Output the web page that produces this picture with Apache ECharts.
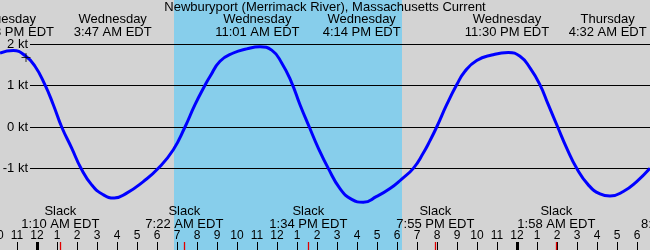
<!DOCTYPE html>
<html>
<head>
<meta charset="utf-8">
<script src="https://cdn.jsdelivr.net/npm/echarts@6/dist/echarts.min.js"></script>
<style>html,body{margin:0;padding:0;background:#d3d3d3}#c{width:650px;height:250px}</style>
</head>
<body>
<div id="c"></div>
<script>
// ---- data (hours relative to Wednesday 00:00 EDT) ----
const titleText = 'Newburyport (Merrimack River), Massachusetts Current';
const curveHours = [-1.85,-1.185,-0.6,-0.1,0.4,0.815,1.235,1.735,2.2,2.735,3.315,3.865,4.485,5.315,6.065,6.815,7.4,7.9,8.4,8.65,9.15,9.815,10.485,11.15,11.735,12.235,12.735,13.15,13.615,14.065,14.565,15.15,15.735,16.315,16.985,17.65,18.235,18.815,19.315,19.65,19.985,20.485,20.985,21.4,21.985,22.735,23.565,24.15,24.65,25.15,25.565,26.035,26.485,26.985,27.565,28.15,28.65,29.315,29.985,30.65];
const curveKnots = [1.79,1.85,1.73,1.47,1.02,0.54,0,-0.51,-1.0,-1.40,-1.64,-1.72,-1.60,-1.32,-1.0,-0.55,0,0.54,1.01,1.22,1.59,1.79,1.89,1.94,1.86,1.55,1.07,0.54,0,-0.51,-1.0,-1.49,-1.75,-1.82,-1.68,-1.49,-1.26,-1.0,-0.63,-0.33,0,0.54,1.02,1.35,1.61,1.74,1.80,1.71,1.43,1.02,0.54,0,-0.51,-1.0,-1.40,-1.62,-1.67,-1.56,-1.32,-1.0];
const maxDays  = ['Tuesday','Wednesday','Wednesday','Wednesday','Wednesday','Thursday'];
const maxTimes = ['10:43 PM','3:47 AM','11:01 AM','4:14 PM','11:30 PM','4:32 AM'];
const slackDays  = ['Wednesday','Wednesday','Wednesday','Wednesday','Thursday','Thursday'];
const slackTimes = ['1:10 AM','7:22 AM','1:34 PM','7:55 PM','1:58 AM','8:09 AM'];
const sunrise = ['Wednesday','6:51 AM'];
const sunset  = ['Wednesday','6:15 PM'];
const nowDay = 'Tuesday', nowTime = '11:27 PM';   // current-time cross
const nowKnots = 1.68;
const zone = 'EDT';

// ---- helpers ----
const dayOffset = {Tuesday:-24, Wednesday:0, Thursday:24};
function toHour(day, t){
  const m = t.match(/(\d+):(\d+)\s*(AM|PM)/);
  let h = (+m[1]) % 12; if (m[3]==='PM') h += 12;
  return dayOffset[day] + h + (+m[2])/60;
}
const maxHours = maxDays.map((d,i)=>toHour(d,maxTimes[i]));
const slackHours = slackDays.map((d,i)=>toHour(d,slackTimes[i]));
const nowHour = toHour(nowDay,nowTime);
function nearest(arr, v){ let b=0; arr.forEach((a,i)=>{ if(Math.abs(a-v)<Math.abs(arr[b]-v)) b=i; }); return b; }

const FONT = 'Liberation Sans, Arial, sans-serif';
const XMIN = -2, XMAX = 33;
const G = {left:-3, right:-47, outerBoundsMode:'none', containLabel:false};

const chart = echarts.init(document.getElementById('c'), null, {renderer:'canvas'});
chart.setOption({
  backgroundColor:'#d3d3d3',
  animation:false,
  title:{text:titleText,left:'center',top:1,padding:0,
    textStyle:{fontFamily:FONT,fontSize:13,fontWeight:'normal',color:'#000'}},
  grid:[
    {left:30,right:0,top:44.33,bottom:81.67,outerBoundsMode:'none',containLabel:false},  // 0: kt grid lines
    Object.assign({top:3,bottom:-1},G),           // 1: curve
    Object.assign({top:0,bottom:0},G),            // 2: hours + max labels + shading
    Object.assign({top:242,bottom:0},G),          // 3: slack labels + red ticks
    Object.assign({top:242,bottom:0},G)           // 4: midnight ticks
  ],
  xAxis:[
    {gridIndex:0,type:'value',min:0,max:1,show:false},
    {gridIndex:1,type:'value',min:XMIN,max:XMAX,show:false},
    {gridIndex:2,type:'value',min:XMIN,max:XMAX,interval:1,position:'bottom',z:3,
      axisLine:{show:false},splitLine:{show:false},
      axisTick:{show:true,inside:true,length:8,lineStyle:{color:'#000',width:1}},
      axisLabel:{inside:true,margin:8,color:'#000',fontFamily:FONT,fontSize:12,
        showMinLabel:true,showMaxLabel:true,hideOverlap:false,
        formatter:v=>{let h=((v%12)+12)%12; return String(h===0?12:h);}}},
    {gridIndex:2,type:'value',min:XMIN,max:XMAX,position:'top',z:3,
      axisLine:{show:false},splitLine:{show:false},axisTick:{show:false},
      axisLabel:{inside:true,margin:13,color:'#000',fontFamily:FONT,fontSize:13,lineHeight:13,
        customValues:maxHours,hideOverlap:false,
        formatter:v=>{const i=nearest(maxHours,v); return maxDays[i]+'\n'+maxTimes[i]+' '+zone;}}},
    {gridIndex:3,type:'value',min:XMIN,max:XMAX,position:'top',z:3,
      axisLine:{show:false},splitLine:{show:false},axisTick:{show:false},
      axisLabel:{margin:11,color:'#000',fontFamily:FONT,fontSize:13,lineHeight:13,
        customValues:slackHours,hideOverlap:false,
        formatter:v=>{const i=nearest(slackHours,v); return 'Slack\n'+slackTimes[i]+' '+zone;}}},
    {gridIndex:3,type:'value',min:XMIN,max:XMAX,position:'bottom',z:4,
      axisLine:{show:false},splitLine:{show:false},axisLabel:{show:false},
      axisTick:{show:true,inside:true,length:8,customValues:slackHours,lineStyle:{color:'#e00000',width:1.3}}},
    {gridIndex:4,type:'value',min:XMIN,max:XMAX,position:'bottom',z:4,
      axisLine:{show:false},splitLine:{show:false},axisLabel:{show:false},
      axisTick:{show:true,inside:true,length:8,customValues:[0,24],lineStyle:{color:'#000',width:3}}}
  ],
  yAxis:[
    {gridIndex:0,type:'value',min:-1,max:2,interval:1,z:3,
      axisLine:{show:false},axisTick:{show:false},
      splitLine:{show:true,lineStyle:{color:'#000',width:1}},
      axisLabel:{margin:2,color:'#000',fontFamily:FONT,fontSize:13,formatter:'{value} kt'}},
    {gridIndex:1,type:'value',min:-3,max:3,show:false},
    {gridIndex:2,type:'value',min:0,max:1,show:false},
    {gridIndex:3,type:'value',min:0,max:1,show:false},
    {gridIndex:4,type:'value',min:0,max:1,show:false}
  ],
  series:[
    {type:'line',xAxisIndex:2,yAxisIndex:2,data:[],z:-2,silent:true,
      markArea:{silent:true,z:-2,itemStyle:{color:'#87ceeb',opacity:1},
        data:[[{xAxis:toHour(sunrise[0],sunrise[1])},{xAxis:toHour(sunset[0],sunset[1])}]]}},
    {type:'line',xAxisIndex:1,yAxisIndex:1,smooth:0.5,symbol:'none',clip:false,z:5,
      lineStyle:{color:'#0000ff',width:3},
      data:curveHours.map((h,i)=>[h,curveKnots[i]])},
    {type:'scatter',xAxisIndex:1,yAxisIndex:1,z:6,
      symbol:'path://M4,0h1v9h-1z M0,4h9v1h-9z',symbolSize:9,itemStyle:{color:'#000'},
      data:[[nowHour,nowKnots]]}
  ]
});
</script>
</body>
</html>
